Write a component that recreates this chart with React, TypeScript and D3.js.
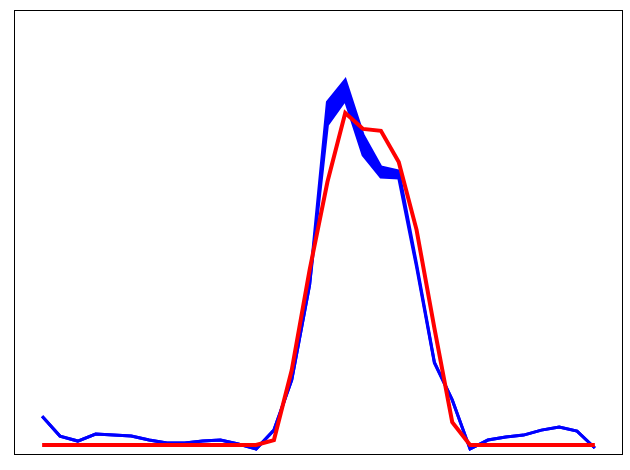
import React from "react";
import * as d3 from "d3";

const W = 630;
const H = 470;

// sample index 0..31
const samples: number[] = d3.range(32);

// red reference curve
const redValues: number[] = [
  0, 0, 0, 0, 0, 0, 0, 0, 0, 0, 0, 0, 0,
  0.015, 0.226, 0.527, 0.792, 1.0, 0.952, 0.946, 0.852, 0.648, 0.352, 0.069,
  0, 0, 0, 0, 0, 0, 0, 0,
];

// blue ensemble: lower envelope
const blueLow: number[] = [
  0.087, 0.027, 0.012, 0.033, 0.030, 0.027, 0.015, 0.006, 0.006, 0.012, 0.015,
  0.003, -0.012, 0.045, 0.196, 0.482, 0.964, 1.039, 0.873, 0.807, 0.804,
  0.536, 0.247, 0.136, -0.012, 0.015, 0.024, 0.030, 0.045, 0.054, 0.042, -0.009,
];

// blue ensemble: upper envelope
const blueHigh: number[] = [
  0.087, 0.027, 0.012, 0.033, 0.030, 0.027, 0.015, 0.006, 0.006, 0.012, 0.015,
  0.003, -0.012, 0.045, 0.196, 0.482, 1.033, 1.099, 0.934, 0.837, 0.825,
  0.545, 0.250, 0.136, -0.012, 0.015, 0.024, 0.030, 0.045, 0.054, 0.042, -0.009,
];

export default function App() {
  const left = 14.5, right = 622.5, top = 10.5, bottom = 454.5;
  const span = 31;
  const pad = (right - left) * 0.05 / 1.1;
  const x = d3.scaleLinear().domain([0, span]).range([left + pad, right - pad]);
  const y = d3.scaleLinear().domain([-0.03, 1.31]).range([455, 10]);

  const line = (vals: number[]) =>
    d3.line<number>().x((_, i) => x(samples[i])).y((v) => y(v))(vals) || "";
  const band =
    d3
      .area<number>()
      .x((_, i) => x(samples[i]))
      .y0((_, i) => y(blueLow[i]))
      .y1((_, i) => y(blueHigh[i]))(samples) || "";

  return (
    <svg
      width={W}
      height={H}
      style={{ position: "absolute", left: 0, top: 0, background: "#fff" }}
    >
      <rect x={0} y={0} width={W} height={H} fill="#fff" />
      <path d={band} fill="#0000ff" stroke="none" />
      <path d={line(blueLow)} fill="none" stroke="#0000ff" strokeWidth={3} strokeLinejoin="miter" />
      <path d={line(blueHigh)} fill="none" stroke="#0000ff" strokeWidth={3} strokeLinejoin="miter" />
      <path d={line(redValues)} fill="none" stroke="#ff0000" strokeWidth={4} strokeLinejoin="miter" />
      <rect
        x={left}
        y={top}
        width={right - left}
        height={bottom - top}
        fill="none"
        stroke="#000"
        strokeWidth={1}
      />
    </svg>
  );
}
